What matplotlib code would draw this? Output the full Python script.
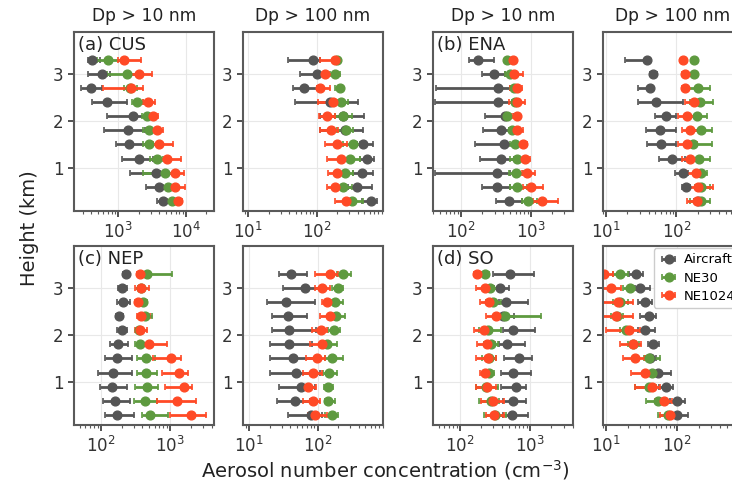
import matplotlib
matplotlib.use("Agg")
import matplotlib.pyplot as plt
import numpy as np

# heights (km), top to bottom
heights = [3.3, 3.0, 2.7, 2.4, 2.1, 1.8, 1.5, 1.2, 0.9, 0.6, 0.3]

# each row: [median, low, high]  (cm-3)
cus10_air = [[404, 360, 536], [581, 360, 760], [390, 277, 568], [673, 413, 1328], [1630, 673, 2775],
             [1406, 621, 2480], [1455, 913, 2620], [2018, 1120, 3290], [3565, 1487, 4130],
             [3990, 2566, 5180], [4630, 3690, 5810]]
cus10_ne30 = [[711, 479, 1120], [1330, 676, 2000], [1500, 1200, 1900], [1910, 1574, 2340], [2685, 2213, 3213],
              [2808, 2340, 3485], [2870, 2340, 3690], [3690, 2940, 4630], [4900, 2340, 6500],
              [5480, 4630, 6870], [6140, 5180, 7280]]
cus10_ne1024 = [[1227, 1000, 2160], [2020, 1330, 3100], [1540, 600, 2290], [2775, 2340, 3485], [3290, 2775, 3900],
                [3690, 3110, 4630], [3990, 3290, 6500], [5180, 3900, 8340], [6870, 5180, 9330],
                [6870, 5810, 9660], [7700, 6500, 8630]]

cus100_air = [[89, 38.5, 112], [100, 57, 112], [65, 45.6, 100], [157, 48, 407], [245, 112, 493],
              [260, 112, 480], [482, 385, 660], [540, 431, 690], [456, 344, 676], [385, 290, 638],
              [617, 456, 755]]
cus100_ne30 = [[196, 180, 215], [185, 157, 219], [219, 185, 245], [224, 175, 290], [240, 185, 325],
               [268, 196, 344], [336, 245, 431], [307, 245, 431], [260, 207, 344], [245, 196, 325],
               [325, 275, 482]]
cus100_ne1024 = [[185, 112, 207], [132, 106, 175], [112, 100, 157], [171, 106, 196], [140, 109, 185],
                 [162, 112, 207], [196, 132, 275], [224, 140, 325], [196, 148, 275], [185, 140, 245],
                 [268, 185, 344]]

ena10_air = [[171, 127, 290], [290, 197, 425], [341, 43, 500], [341, 42, 591], [425, 220, 560],
             [373, 208, 475], [403, 158, 591], [373, 187, 560], [330, 42, 500], [330, 197, 500],
             [475, 316, 736]]
ena10_ne30 = [[449, 420, 480], [501, 425, 620], [571, 520, 620], [591, 540, 660], [459, 420, 500],
              [529, 480, 580], [591, 501, 736], [624, 501, 777], [611, 475, 777], [638, 501, 867],
              [916, 736, 1205]]
ena10_ne1024 = [[547, 500, 600], [571, 475, 777], [624, 501, 736], [624, 475, 821], [624, 529, 697],
                [638, 501, 777], [760, 659, 867], [821, 697, 968], [867, 736, 1140], [989, 777, 1500],
                [1420, 1079, 2450]]

ena100_air = [[38, 18.3, 41.6], [46, 41.6, 53], [41.6, 28.3, 46], [50.7, 28.3, 124], [72, 49, 100],
              [58, 37, 100], [61, 38, 100], [85, 56, 131], [124, 94.6, 147], [136, 118, 155],
              [205, 180, 230]]
ena100_ne30 = [[179, 165, 195], [177, 165, 192], [204, 139, 299], [215, 155, 334], [193, 147, 268],
               [227, 173, 316], [173, 139, 316], [211, 164, 299], [227, 183, 268], [220, 183, 299],
               [220, 155, 299]]
ena100_ne1024 = [[124, 115, 134], [131, 121, 141], [131, 121, 141], [177, 131, 240], [139, 106, 183],
                 [158, 118, 227], [139, 106, 193], [158, 118, 215], [189, 139, 240], [204, 147, 334],
                 [193, 139, 240]]

nep10_air = [[232, 212, 259], [201, 180, 237], [212, 174, 265], [186, 166, 212], [201, 170, 237],
             [180, 136, 251], [174, 116, 280], [152, 92, 280], [144, 96, 237], [161, 107, 265],
             [174, 116, 302]]
nep10_ne30 = [[471, 390, 1057], [382, 350, 420], [412, 369, 471], [436, 400, 545], [360, 330, 390],
              [369, 313, 460], [451, 338, 608], [451, 330, 643], [471, 313, 679], [436, 302, 643],
              [515, 390, 946]]
nep10_ne1024 = [[369, 330, 412], [382, 313, 503], [349, 313, 390], [382, 330, 515], [369, 313, 471],
                [503, 412, 896], [1023, 575, 1427], [1364, 759, 1836], [1592, 848, 2055], [1248, 643, 2370],
                [1986, 1000, 3300]]

nep100_air = [[40.8, 27.5, 70.6], [65, 31.5, 108], [34.4, 18, 91], [37.2, 22, 70.6], [38.5, 22, 96.6],
              [38.5, 20.5, 81.7], [44, 20.5, 96.6], [49, 20.5, 108], [57, 27.5, 91.4], [46.5, 25.7, 77.3],
              [79, 37.2, 114.5]]
nep100_ne30 = [[238, 190, 304], [200, 160, 238], [180, 151, 238], [185, 151, 251], [173, 143, 212],
               [138, 121, 190], [160, 128, 238], [148, 121, 190], [143, 124, 169], [143, 128, 179],
               [160, 128, 200]]
nep100_ne1024 = [[151, 91.4, 200], [115, 91.4, 151], [136, 114.5, 160], [151, 108, 179], [111, 81.7, 135.5],
                 [115, 77.3, 151], [97, 69, 128], [84.5, 61.7, 114.5], [73, 65.3, 96.6], [84.5, 61.7, 108],
                 [91, 73, 135.5]]

so10_air = [[516, 298, 1117], [371, 308, 494], [453, 363, 927], [414, 325, 596], [564, 405, 1153],
            [462, 363, 829], [687, 429, 1069], [577, 384, 1033], [629, 384, 877], [577, 405, 877],
            [552, 405, 927]]
so10_ne30 = [[228, 198, 261], [267, 221, 343], [291, 233, 384], [443, 325, 1439], [247, 187, 384],
             [275, 221, 343], [261, 209, 325], [261, 221, 308], [233, 171, 343], [275, 187, 363],
             [318, 221, 453]]
so10_ne1024 = [[177, 159, 198], [228, 171, 275], [255, 191, 325], [325, 233, 429], [221, 159, 275],
               [239, 177, 318], [247, 171, 325], [228, 191, 261], [239, 171, 325], [291, 198, 429],
               [308, 233, 429]]

so100_air = [[26, 20.9, 33], [30.3, 25.2, 41], [34.8, 28, 43.4], [39.7, 29.6, 49.9], [34.8, 28, 48.3],
             [45.7, 38.9, 55.6], [41, 34.8, 51], [53.8, 43.4, 83], [70.6, 55.6, 87.7], [98, 78.7, 128],
             [100, 78.7, 143]]
so100_ne30 = [[15.8, 12.4, 20.3], [21.9, 17.2, 28], [15.5, 12.4, 20.3], [14, 11.5, 17], [18.8, 15.5, 23.8],
              [24, 20, 29], [40.2, 33.7, 56.9], [44.8, 36.8, 53.8], [40, 25.2, 50], [53.8, 36.8, 70.6],
              [74.6, 53.8, 109]]
so100_ne1024 = [[9.2, 8.5, 12.4], [11.8, 9, 16.3], [14.6, 9, 23.8], [13.6, 9, 23.8], [20.9, 10, 29.6],
                [23.8, 15.5, 31.3], [25.2, 17.2, 34.8], [34.8, 22.6, 43.4], [44.8, 25.2, 56.9],
                [65.5, 48.3, 83.2], [78.7, 56.9, 98]]

series_names = ["Aircraft", "NE30", "NE1024"]
series_colors = ["#555555", "#5e9a3f", "#ff4a26"]

panels = [
    # (row, col, label, series, xlim)
    (0, 0, "(a) CUS", [cus10_air, cus10_ne30, cus10_ne1024], (221, 25900)),
    (0, 1, None, [cus100_air, cus100_ne30, cus100_ne1024], (8.45, 933)),
    (0, 2, "(b) ENA", [ena10_air, ena10_ne30, ena10_ne1024], (39.4, 3980)),
    (0, 3, None, [ena100_air, ena100_ne30, ena100_ne1024], (8.96, 887)),
    (1, 0, "(c) NEP", [nep10_air, nep10_ne30, nep10_ne1024], (41, 4315)),
    (1, 1, None, [nep100_air, nep100_ne30, nep100_ne1024], (8.17, 903)),
    (1, 2, "(d) SO", [so10_air, so10_ne30, so10_ne1024], (41.4, 4055)),
    (1, 3, None, [so100_air, so100_ne30, so100_ne1024], (8.97, 849)),
]
col_titles = ["Dp > 10 nm", "Dp > 100 nm", "Dp > 10 nm", "Dp > 100 nm"]

W, H = 732, 488
fig = plt.figure(figsize=(W / 100, H / 100), dpi=100)
col_left = [74, 243, 433, 603]
row_top = [32, 246]
aw, ah = 140, 179

for row, col, label, series, xlim in panels:
    ax = fig.add_axes([col_left[col] / W, 1 - (row_top[row] + ah) / H, aw / W, ah / H])
    for data, name, color in zip(series, series_names, series_colors):
        d = np.array(data, dtype=float)
        xerr = np.vstack([d[:, 0] - d[:, 1], d[:, 2] - d[:, 0]])
        ax.errorbar(d[:, 0], heights, xerr=xerr, fmt='o', color=color, ecolor=color,
                    ms=6.3, elinewidth=2, capsize=2, capthick=1.2, label=name)
    ax.set_xscale('log')
    ax.set_xlim(*xlim)
    ax.set_ylim(0.08, 3.9)
    ax.set_yticks([1, 2, 3])
    ax.grid(True, color='#e8e8e8', linewidth=0.8)
    ax.set_axisbelow(True)
    for s in ax.spines.values():
        s.set_color('#5a5a5a')
        s.set_linewidth(1.5)
    ax.tick_params(colors='#333333', labelsize=12, width=1.2, length=4)
    ax.tick_params(which='minor', colors='#5a5a5a', width=0.8, length=2.5)
    if row == 0:
        ax.set_title(col_titles[col], fontsize=12.3, color='#222222', pad=8)
    if label:
        ax.text(0.03, 0.975, label, transform=ax.transAxes, fontsize=13, va='top', ha='left', color='#222222')
    if row == 1 and col == 3:
        # legend runs past the right edge of the figure, as in the source image
        ax.legend(loc='upper right', fontsize=9.5, frameon=True, framealpha=1,
                  edgecolor='#cccccc', handlelength=1.5, handletextpad=0.4,
                  borderaxespad=0.15, labelspacing=0.4)

fig.text(30 / W, 1 - 228 / H, "Height (km)", rotation=90, fontsize=14, ha='center', va='center', color='#222222')
fig.text(385 / W, 1 - 470 / H, "Aerosol number concentration (cm$^{-3}$)", fontsize=14,
         ha='center', va='center', color='#222222')

fig.savefig("out.png", dpi=100)
